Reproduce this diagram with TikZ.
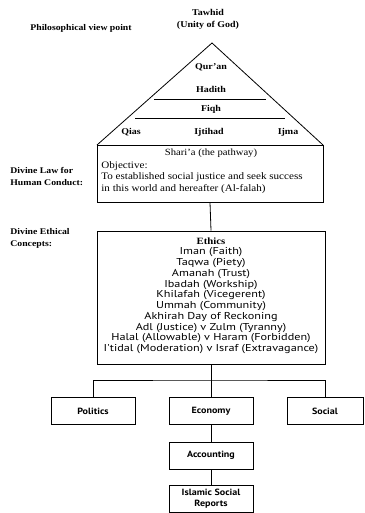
\documentclass[tikz,border=0pt]{standalone}
\usepackage{fontspec}
\setmainfont[FakeStretch=1.12]{Liberation Serif}
\newfontfamily\gill[FakeStretch=1.22]{PT Sans}
\newfontfamily\gillb[FakeStretch=1.12]{PT Sans}
\begin{document}
\begin{tikzpicture}[x=1pt,y=-1pt,line width=0.8pt,
  lab/.style={font=\bfseries\fontsize{8.7}{12}\selectfont,align=left,anchor=west,inner sep=0},
  tri/.style={font=\bfseries\fontsize{8.9}{12}\selectfont,inner sep=0},
  body/.style={font=\fontsize{9.9}{11.8}\selectfont,align=left,anchor=west,inner sep=0},
  list/.style={font=\gill\fontsize{10}{10.75}\selectfont,align=center,inner sep=0,anchor=north},
  bbox/.style={draw,minimum width=84pt,minimum height=27pt,inner sep=0,align=center,
    font=\gillb\bfseries\fontsize{9}{11}\selectfont}]
\useasboundingbox (0,0) rectangle (364,513);
% top labels
\node[tri,align=center] (tawhid) at (208,19) {Tawhid\\(Unity of God)};
\node[lab] (philo) at (30,28) {Philosophical view point};
% triangle
\coordinate (apex) at (212,43);
\coordinate (bl) at (97,145);
\coordinate (br) at (323,145);
\draw (bl) -- (apex) -- (br);
\node[tri] (quran) at (211,67) {Qur'an};
\node[tri] (hadith) at (211,89) {Hadith};
\coordinate (h1) at (154,99); \coordinate (h2) at (266,99);
\draw (h1) -- (h2);
\node[tri] (fiqh) at (211,109) {Fiqh};
\coordinate (f1) at (135,118); \coordinate (f2) at (285,118);
\draw (f1) -- (f2);
\node[tri] (qias) at (131,132) {Qias};
\node[tri] (ijtihad) at (209,132) {Ijtihad};
\node[tri] (ijma) at (288,132) {Ijma};
% shari'a box
\node[draw,minimum width=226pt,minimum height=57pt,inner sep=0] (sharia) at (210,173.5) {};
\node[font=\fontsize{9.5}{11}\selectfont,inner sep=0] (shtitle) at (211,153) {Shari'a (the pathway)};
\node[body] (obj) at (101,177.5) {Objective:\\To established social justice and seek success\\in this world and hereafter (Al-falah)};
\node[lab] (law) at (10,176) {Divine Law for\\Human Conduct:};
% ethics box
\node[draw,minimum width=228pt,minimum height=133pt,inner sep=0] (ethics) at (211,297.5) {};
\node[lab] (concepts) at (10,238) {Divine Ethical\\Concepts:};
\node[list] (elist) at (211,237) {{\rmfamily\bfseries\fontsize{9.6}{10}\selectfont Ethics}\\Iman (Faith)\\Taqwa (Piety)\\Amanah (Trust)\\Ibadah (Workship)\\Khilafah (Vicegerent)\\Ummah (Community)\\Akhirah Day of Reckoning\\Adl (Justice) v Zulm (Tyranny)\\Halal (Allowable) v Haram (Forbidden)\\I'tidal (Moderation) v Israf (Extravagance)};
\draw (sharia.south) -- (ethics.north);
% lower boxes
\node[bbox] (politics) at (93,411) {Politics};
\node[bbox] (economy) at (211,411) {Economy};
\node[bbox,minimum width=76pt] (social) at (325,411) {Social};
\node[bbox] (accounting) at (211,455.5) {Accounting};
\node[bbox] (reports) at (211,499) {Islamic Social\\Reports};
\coordinate (split) at (211,380);
\draw (ethics.south) -- (split);
\draw (politics.north) |- (split) -| (social.north);
\draw (split) -- (economy.north);
\draw (economy.south) -- (accounting.north);
\draw (accounting.south) -- (reports.north);
\end{tikzpicture}
\end{document}
